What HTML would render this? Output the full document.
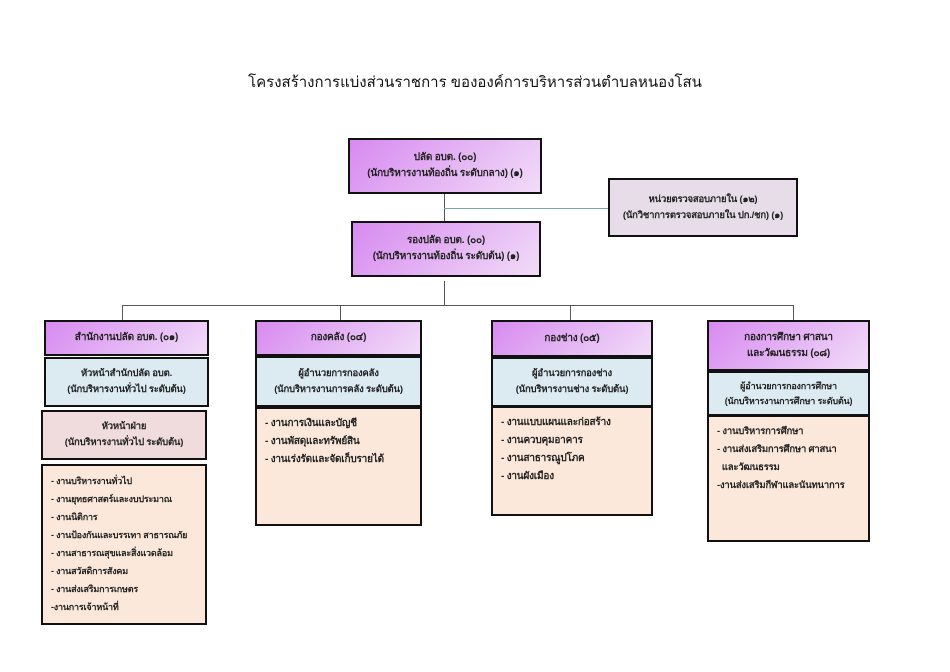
<!DOCTYPE html>
<html><head><meta charset="utf-8"><style>
body{margin:0;width:950px;height:672px;background:#fff;position:relative;overflow:hidden;font-family:"Liberation Sans","Noto Sans CJK SC",sans-serif;}
.b{position:absolute;box-sizing:border-box;border:2.5px solid #111;font-weight:bold;font-size:10px;color:#222;text-align:center;display:flex;flex-direction:column;justify-content:center;line-height:16px;white-space:nowrap;overflow:hidden;letter-spacing:-0.2px}
.p{background:linear-gradient(135deg,#d78af0,#f1dcf8)}
.bl{background:#dcebf2}
.pk{background:#f0dcdc}
.l{background:#fce8da;text-align:left;justify-content:flex-start;padding:6px 0 0 8px;line-height:18px}
.ln{position:absolute;background:#555}
.t{position:absolute;top:70px;left:0;width:950px;text-align:center;font-size:15px;color:#111}
</style></head><body>
<div class="t">โครงสร้างการแบ่งส่วนราชการ ขององค์การบริหารส่วนตำบลหนองโสน</div>

<div class="ln" style="left:444px;top:194px;width:1px;height:28px"></div>
<div class="ln" style="left:444px;top:208px;width:164px;height:1px;background:#7aa"></div>
<div class="ln" style="left:444px;top:281px;width:1px;height:24px"></div>
<div class="ln" style="left:122px;top:305px;width:672px;height:1px"></div>
<div class="ln" style="left:122px;top:305px;width:1px;height:15px"></div>
<div class="ln" style="left:340px;top:305px;width:1px;height:15px"></div>
<div class="ln" style="left:570px;top:305px;width:1px;height:15px"></div>
<div class="ln" style="left:793px;top:305px;width:1px;height:15px"></div>

<div class="b p" style="left:348px;top:138px;width:194px;height:56px">ปลัด อบต. (๐๐)<br>(นักบริหารงานท้องถิ่น ระดับกลาง) (๑)</div>
<div class="b" style="left:608px;top:178px;width:190px;height:59px;background:#e6dde9;font-size:9.5px">หน่วยตรวจสอบภายใน (๑๒)<br>(นักวิชาการตรวจสอบภายใน ปก./ชก) (๑)</div>
<div class="b p" style="left:351px;top:221px;width:190px;height:56px">รองปลัด อบต. (๐๐)<br>(นักบริหารงานท้องถิ่น ระดับต้น) (๑)</div>

<div class="b p" style="left:44px;top:320px;width:165px;height:36px">สำนักงานปลัด อบต. (๐๑)</div>
<div class="b bl" style="left:44px;top:357px;width:165px;height:50px;font-size:9.5px">หัวหน้าสำนักปลัด อบต.<br>(นักบริหารงานทั่วไป ระดับต้น)</div>
<div class="b pk" style="left:41px;top:410px;width:166px;height:50px;font-size:9.5px">หัวหน้าฝ่าย<br>(นักบริหารงานทั่วไป ระดับต้น)</div>
<div class="b l" style="left:41px;top:464px;width:166px;height:161px;font-size:9px">- งานบริหารงานทั่วไป<br>- งานยุทธศาสตร์และงบประมาณ<br>- งานนิติการ<br>- งานป้องกันและบรรเทา สาธารณภัย<br>- งานสาธารณสุขและสิ่งแวดล้อม<br>- งานสวัสดิการสังคม<br>- งานส่งเสริมการเกษตร<br>-งานการเจ้าหน้าที่</div>

<div class="b p" style="left:255px;top:320px;width:167px;height:36px">กองคลัง (๐๔)</div>
<div class="b bl" style="left:255px;top:356px;width:167px;height:51px;font-size:9.5px">ผู้อำนวยการกองคลัง<br>(นักบริหารงานการคลัง ระดับต้น)</div>
<div class="b l" style="left:255px;top:407px;width:167px;height:119px">- งานการเงินและบัญชี<br>- งานพัสดุและทรัพย์สิน<br>- งานเร่งรัดและจัดเก็บรายได้</div>

<div class="b p" style="left:491px;top:320px;width:162px;height:37px">กองช่าง (๐๕)</div>
<div class="b bl" style="left:491px;top:357px;width:162px;height:50px;font-size:9.5px">ผู้อำนวยการกองช่าง<br>(นักบริหารงานช่าง ระดับต้น)</div>
<div class="b l" style="left:491px;top:406px;width:162px;height:110px">- งานแบบแผนและก่อสร้าง<br>- งานควบคุมอาคาร<br>- งานสาธารณูปโภค<br>- งานผังเมือง</div>

<div class="b p" style="left:707px;top:320px;width:163px;height:51px">กองการศึกษา ศาสนา<br>และวัฒนธรรม (๐๘)</div>
<div class="b bl" style="left:707px;top:371px;width:163px;height:45px;font-size:9px;line-height:15px">ผู้อำนวยการกองการศึกษา<br>(นักบริหารงานการศึกษา ระดับต้น)</div>
<div class="b l" style="left:707px;top:415px;width:163px;height:127px;font-size:9.5px">- งานบริหารการศึกษา<br>- งานส่งเสริมการศึกษา ศาสนา<br>&nbsp;&nbsp;และวัฒนธรรม<br>-งานส่งเสริมกีฬาและนันทนาการ</div>
</body></html>
